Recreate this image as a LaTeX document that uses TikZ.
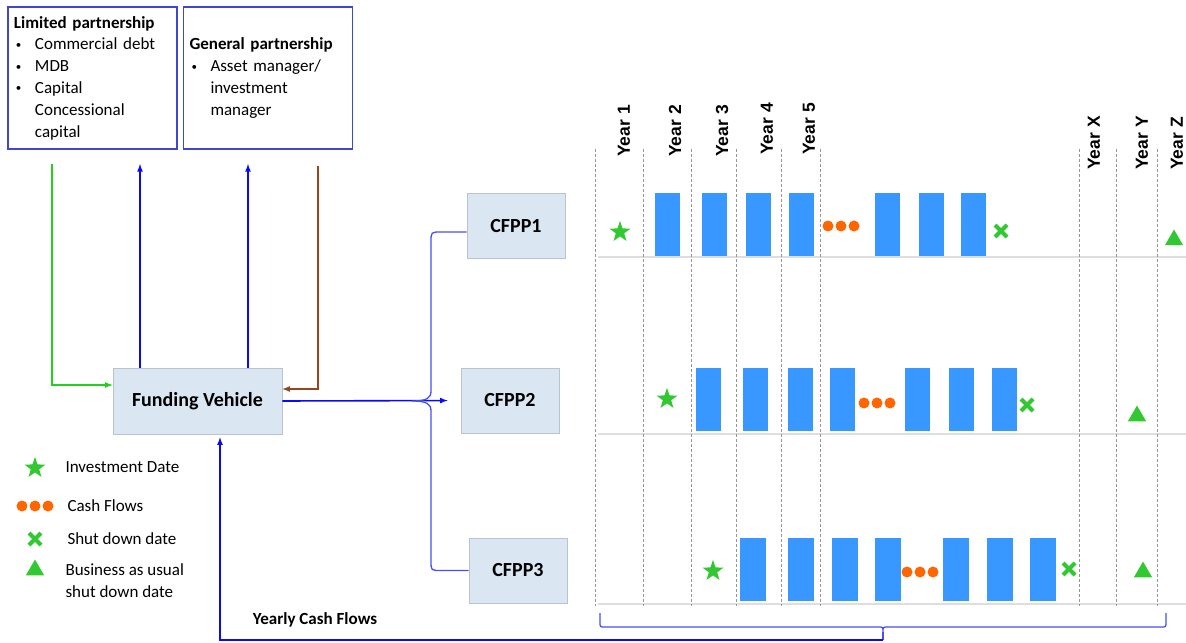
\documentclass[tikz,border=0pt]{standalone}
\usepackage{fontspec}
\setmainfont{Carlito}
\newfontfamily\yearfont{Liberation Sans}
\usetikzlibrary{positioning,shapes.geometric,shapes.misc}
\definecolor{boxblue}{RGB}{63,72,204}
\definecolor{fvfill}{RGB}{218,230,242}
\definecolor{fvline}{RGB}{185,195,210}
\definecolor{arrblue}{RGB}{10,10,250}
\definecolor{braceblue}{RGB}{70,80,240}
\definecolor{arrgreen}{RGB}{30,210,30}
\definecolor{arrbrown}{RGB}{150,70,30}
\definecolor{barblue}{RGB}{56,152,255}
\definecolor{mkgreen}{RGB}{50,200,50}
\definecolor{dotorange}{RGB}{255,102,0}
\definecolor{gridgray}{RGB}{150,150,150}
\definecolor{rowgray}{RGB}{222,222,222}
\newcommand{\bul}{\makebox[21bp][l]{\hspace{2bp}\raisebox{1.5bp}{\fontsize{11bp}{11bp}\selectfont\textbullet}}}
\tikzset{
  partbox/.style={draw=boxblue, line width=1.3bp, minimum width=169bp, minimum height=142bp,
    text width=157bp, inner xsep=6bp, align=left, font=\fontsize{17bp}{21.8bp}\selectfont},
  fundbox/.style={fill=fvfill, draw=fvline, line width=0.6bp, minimum height=66bp,
    font=\bfseries\fontsize{20bp}{24bp}\selectfont},
  flow/.style={line width=1.6bp, -latex},
  braceline/.style={braceblue, line width=1.3bp},
  gridline/.style={gridgray, dashed, dash pattern=on 3bp off 2bp, line width=0.9bp},
  rowline/.style={rowgray, line width=2.5bp},
  yearlab/.style={rotate=90, anchor=west, inner sep=0, font=\yearfont\bfseries\fontsize{17.5bp}{17.5bp}\selectfont},
  legtext/.style={anchor=west, align=left, font=\fontsize{17bp}{22bp}\selectfont},
  invstar/.style={star, star points=5, star point ratio=2.5, fill=mkgreen, minimum size=22bp, inner sep=0},
  cashdot/.style={circle, fill=dotorange, minimum size=11bp, inner sep=0},
  shutx/.style={cross out, draw=mkgreen, line width=4bp, minimum size=8bp, inner sep=0},
  bautri/.style={regular polygon, regular polygon sides=3, fill=mkgreen, minimum size=21bp, inner sep=0}
}
\begin{document}
\begin{tikzpicture}[x=1bp, y=-1bp]
\useasboundingbox (0,0) rectangle (1186,643);
% partnerships
\node[partbox] (lp) at (92.5,78) {{\bfseries Limited partnership}\\ \bul Commercial debt\\ \bul MDB\\ \bul Capital\\ \hspace*{21bp}Concessional\\ \hspace*{21bp}capital};
\node[partbox] (gp) at (268,78) {{\bfseries General partnership}\\ \bul Asset manager/\\ \hspace*{21bp}investment\\ \hspace*{21bp}manager};
% funding vehicle and plants
\node[fundbox, minimum width=169bp] (fv) at (197.5,401) {Funding Vehicle};
\node[fundbox, minimum width=98bp, minimum height=65bp] (cfpp1) at (516,226) {CFPP1};
\node[fundbox, minimum width=98bp, minimum height=65bp] (cfpp2) at (510,400.5) {CFPP2};
\node[fundbox, minimum width=98bp, minimum height=65bp] (cfpp3) at (518,570.5) {CFPP3};
% flows between partners and vehicle
\coordinate (lpout) at (52,164);
\coordinate (lpin) at (140,164);
\coordinate (gpin) at (248,164);
\coordinate (gpout) at (318,166);
\draw[flow, arrgreen] (lpout) |- ([yshift=16bp]fv.west);
\draw[flow, arrblue] (fv.north -| lpin) -- (lpin);
\draw[flow, arrblue] (fv.north -| gpin) -- (gpin);
\draw[flow, arrbrown] (gpout) |- ([yshift=12bp]fv.east);
\draw[flow, arrblue, shorten >=13bp] (fv.east) -- (cfpp2.west);
\draw[braceline] ([yshift=-6bp]cfpp1.west) -- (441,232) .. controls (431,232) .. (431,242) -- (431,391)
  .. controls (431,398) and (427,401) .. (412,401) .. controls (427,401) and (431,404) .. (431,411)
  -- (431,561) .. controls (431,570.5) .. (441,570.5) -- (cfpp3.west);
% timeline grid
\foreach \y in {257,434,604} \draw[rowline] (598,\y) -- (1186,\y);
\foreach \x in {595.5,643,691,736,781,820,1079,1116,1157} \draw[gridline] (\x,149) -- (\x,606);
\node[yearlab] (y1) at (624,157) {Year 1};
\node[yearlab] (y2) at (675,157) {Year 2};
\node[yearlab] (y3) at (722,157) {Year 3};
\node[yearlab] (y4) at (767,155) {Year 4};
\node[yearlab] (y5) at (809,155) {Year 5};
\node[yearlab] (yx) at (1094,170) {Year X};
\node[yearlab] (yy) at (1142,170) {Year Y};
\node[yearlab] (yz) at (1177,170) {Year Z};
% yearly cash flows
\foreach \x in {655,702,746,789,875,919,961} \fill[barblue] (\x,193) rectangle ++(25,63);
\foreach \x in {696,743,788,830,905,949,992} \fill[barblue] (\x,368) rectangle ++(25,63);
\foreach \x in {740,788,832,875,943,987,1030} \fill[barblue] (\x,538) rectangle ++(26,63);
\foreach \dx [count=\i] in {0,13,26} {
  \node[cashdot] (ca\i) at ({828+\dx},226) {};
  \node[cashdot] (cb\i) at ({864+\dx},403) {};
  \node[cashdot] (cc\i) at ({907+\dx},572) {};
  \node[cashdot] (cl\i) at ({22+\dx},506) {};
}
\node[invstar] (sa) at (620,232) {};
\node[invstar] (sb) at (667,399) {};
\node[invstar] (sc) at (713,571) {};
\node[shutx] (xa) at (1001,231) {};
\node[shutx] (xb) at (1027,405) {};
\node[shutx] (xc) at (1069,569) {};
\node[bautri] (ta) at (1174,240) {};
\node[bautri] (tb) at (1137,416) {};
\node[bautri] (tc) at (1143,572) {};
% brace back to the vehicle
\coordinate (cfout) at (883,640);
\draw[braceline] (600,613) -- (600,622) .. controls (600,627) .. (605,627) -- (878,627)
  .. controls (883,627) .. (883,632) .. controls (883,627) .. (888,627) -- (1161,627)
  .. controls (1166,627) .. (1166,622) -- (1166,613);
\draw[braceline] (883,632) -- (cfout);
\draw[flow, arrblue, shorten >=3bp] (cfout) -| ([xshift=22.5bp]fv.south);
\node[font=\bfseries\fontsize{17bp}{17bp}\selectfont] (ycf) at (315,620) {Yearly Cash Flows};
% legend
\node[invstar] (ls) at (35,468) {};
\node[shutx] (lx) at (35,539) {};
\node[bautri] (lt) at (35,570) {};
\node[legtext] (l1) at (62,467) {Investment Date};
\node[legtext] (l2) at (64,506) {Cash Flows};
\node[legtext] (l3) at (64,539) {Shut down date};
\node[legtext] (l4) at (62,581) {Business as usual\\shut down date};
\end{tikzpicture}
\end{document}
